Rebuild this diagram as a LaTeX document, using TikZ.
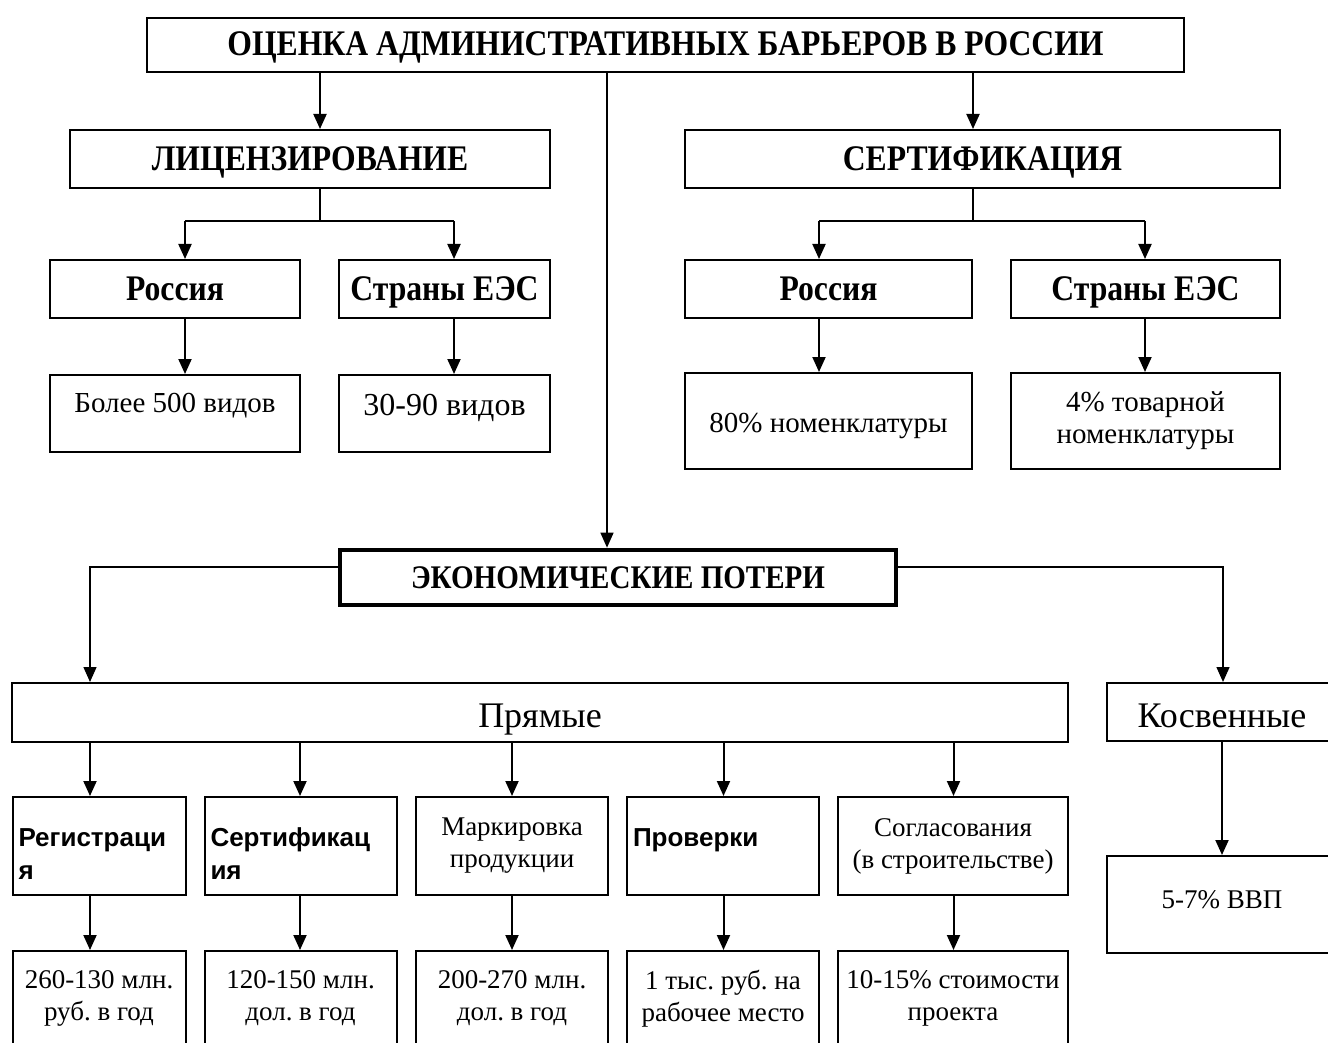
\documentclass[tikz,border=0pt]{standalone}
\usepackage{fontspec}
\setmainfont{Liberation Serif}
\newfontfamily\hbfamily{Liberation Serif}[FakeStretch=0.88]
\newfontfamily\sansfam{Liberation Sans}
\usetikzlibrary{arrows.meta}
\begin{document}
\frenchspacing
\begin{tikzpicture}[x=1pt,y=-1pt,
  box/.style={draw, line width=2pt, inner sep=0pt, align=center},
  arr/.style={line width=2pt, -{Triangle[width=13pt,length=15pt]}},
  thinarr/.style={line width=1.4pt, -{Triangle[width=13pt,length=15pt]}},
  ln/.style={line width=1.4pt},
  hb/.style={font=\hbfamily\bfseries\fontsize{36}{42}\selectfont},
  sr/.style={font=\fontsize{27}{32}\selectfont},
  sb/.style={font=\fontsize{26}{33}\selectfont\sansfam\bfseries, align=left, inner xsep=6pt},
  big/.style={font=\fontsize{36}{42}\selectfont}
]
\fill[white] (0,0) rectangle (1328,1043);
\useasboundingbox (0,0) rectangle (1328,1043);
\clip (0,0) rectangle (1328,1043);

% top level
\node[box,hb,minimum width=1037pt,minimum height=54pt,text height=38pt,text depth=16pt] (top) at (665.5,45) {ОЦЕНКА АДМИНИСТРАТИВНЫХ БАРЬЕРОВ В РОССИИ};
\node[box,hb,minimum width=480pt,minimum height=58pt,text height=41pt,text depth=17pt] (lic) at (310,159) {ЛИЦЕНЗИРОВАНИЕ};
\node[box,hb,minimum width=595pt,minimum height=58pt,text height=41pt,text depth=17pt] (cert) at (982.5,159) {СЕРТИФИКАЦИЯ};

% second level
\node[box,hb,minimum width=250pt,minimum height=58pt,text height=40pt,text depth=18pt] (rusL) at (175,289) {Россия};
\node[box,hb,minimum width=211pt,minimum height=58pt,text height=40pt,text depth=18pt] (eesL) at (444.5,289) {Страны ЕЭС};
\node[box,hb,minimum width=287pt,minimum height=58pt,text height=40pt,text depth=18pt] (rusR) at (828.5,289) {Россия};
\node[box,hb,minimum width=269pt,minimum height=58pt,text height=40pt,text depth=18pt] (eesR) at (1145.5,289) {Страны ЕЭС};

% third level
\node[box,font=\fontsize{29}{34}\selectfont,minimum width=250pt,minimum height=77pt,text height=37pt,text depth=40pt] (more500) at (175,413.5) {Более 500 видов};
\node[box,font=\fontsize{32}{38}\selectfont,minimum width=211pt,minimum height=77pt,text height=40pt,text depth=37pt] (v3090) at (444.5,413.5) {30-90 видов};
\node[box,font=\fontsize{29}{34}\selectfont,minimum width=287pt,minimum height=96pt,text height=59pt,text depth=37pt] (pct80) at (828.5,421) {80\% номенклатуры};
\node[box,font=\fontsize{29}{32}\selectfont,minimum width=269pt,minimum height=96pt] (pct4) at (1145.5,421) {4\% товарной\\номенклатуры};

% economic losses
\node[box,line width=4.7pt,font=\hbfamily\bfseries\fontsize{33}{38}\selectfont,minimum width=556pt,minimum height=55pt,text height=38pt,text depth=17pt] (econ) at (618,577.5) {ЭКОНОМИЧЕСКИЕ ПОТЕРИ};
\node[box,big,minimum width=1056pt,minimum height=59pt,text height=44pt,text depth=15pt] (direct) at (540,712.5) {Прямые};
\node[box,big,minimum width=230pt,minimum height=58pt,text height=44pt,text depth=14pt] (indirect) at (1222,712) {Косвенные};

% kinds of direct losses
\node[box,sb,text width=161pt,minimum height=98pt] (b1) at (99,846) {\rule{0pt}{33pt}Регистраци\\я};
\node[box,sb,text width=180pt,minimum height=98pt] (b2) at (300.5,846) {\rule{0pt}{33pt}Сертификац\\ия};
\node[box,sr,minimum width=192pt,minimum height=98pt] (b3) at (512,846) {Маркировка\\продукции};
\node[box,sb,text width=180pt,minimum height=98pt,text height=49pt,text depth=49pt] (b4) at (723,846) {Проверки};
\node[box,sr,minimum width=230pt,minimum height=98pt] (b5) at (953,846) {Согласования\\(в строительстве)};

% amounts
\node[box,sr,minimum width=173pt,minimum height=95pt] (c1) at (99,998.5) {260-130 млн.\\руб. в год};
\node[box,sr,minimum width=192pt,minimum height=95pt] (c2) at (300.5,998.5) {120-150 млн.\\дол. в год};
\node[box,sr,minimum width=192pt,minimum height=95pt] (c3) at (512,998.5) {200-270 млн.\\дол. в год};
\node[box,sr,minimum width=192pt,minimum height=95pt] (c4) at (723,998.5) {1 тыс. руб. на\\рабочее место};
\node[box,sr,minimum width=230pt,minimum height=95pt] (c5) at (953,998.5) {10-15\% стоимости\\проекта};
\node[box,sr,minimum width=230pt,minimum height=97pt,text height=52pt,text depth=45pt] (vvp) at (1222,904.5) {5-7\% ВВП};

% junction points
\coordinate (lj) at (320,221);
\coordinate (ljL) at (185,221);
\coordinate (ljR) at (454,221);
\coordinate (cj) at (973,221);
\coordinate (cjL) at (819,221);
\coordinate (cjR) at (1145,221);
\coordinate (eL) at (90,567);
\coordinate (eR) at (1223,567);

% connectors from the top
\draw[arr] (top.south -| lj) -- (lic.north -| lj);
\draw[arr] (top.south -| cj) -- (cert.north -| cj);
\draw[thinarr] (top.south -| 607,0) -- (econ.north -| 607,0);

% licensing branch
\draw[ln] (lic.south -| lj) -- (lj);
\draw[ln] (ljL) -- (ljR);
\draw[arr] (ljL) -- (rusL.north -| ljL);
\draw[arr] (ljR) -- (eesL.north -| ljR);
\draw[arr] (rusL.south -| ljL) -- (more500.north -| ljL);
\draw[arr] (eesL.south -| ljR) -- (v3090.north -| ljR);

% certification branch
\draw[ln] (cert.south -| cj) -- (cj);
\draw[ln] (cjL) -- (cjR);
\draw[arr] (cjL) -- (rusR.north -| cjL);
\draw[arr] (cjR) -- (eesR.north -| cjR);
\draw[arr] (rusR.south -| cjL) -- (pct80.north -| cjL);
\draw[arr] (eesR.south -| cjR) -- (pct4.north -| cjR);

% economic losses branches
\draw[thinarr] (econ.west |- eL) -| (direct.north -| eL);
\draw[thinarr] (econ.east |- eR) -| (indirect.north -| eR);

% direct losses
\draw[arr] (direct.south -| 90,0) -- (b1.north -| 90,0);
\draw[arr] (direct.south -| 300,0) -- (b2.north -| 300,0);
\draw[arr] (direct.south -| 512,0) -- (b3.north -| 512,0);
\draw[arr] (direct.south -| 723.5,0) -- (b4.north -| 723.5,0);
\draw[arr] (direct.south -| 953.5,0) -- (b5.north -| 953.5,0);
\draw[arr] (b1.south -| 90,0) -- (c1.north -| 90,0);
\draw[arr] (b2.south -| 300,0) -- (c2.north -| 300,0);
\draw[arr] (b3.south -| 512,0) -- (c3.north -| 512,0);
\draw[arr] (b4.south -| 723.5,0) -- (c4.north -| 723.5,0);
\draw[arr] (b5.south -| 953.5,0) -- (c5.north -| 953.5,0);

% indirect losses
\draw[arr] (indirect.south -| 1222,0) -- (vvp.north -| 1222,0);
\end{tikzpicture}
\end{document}
